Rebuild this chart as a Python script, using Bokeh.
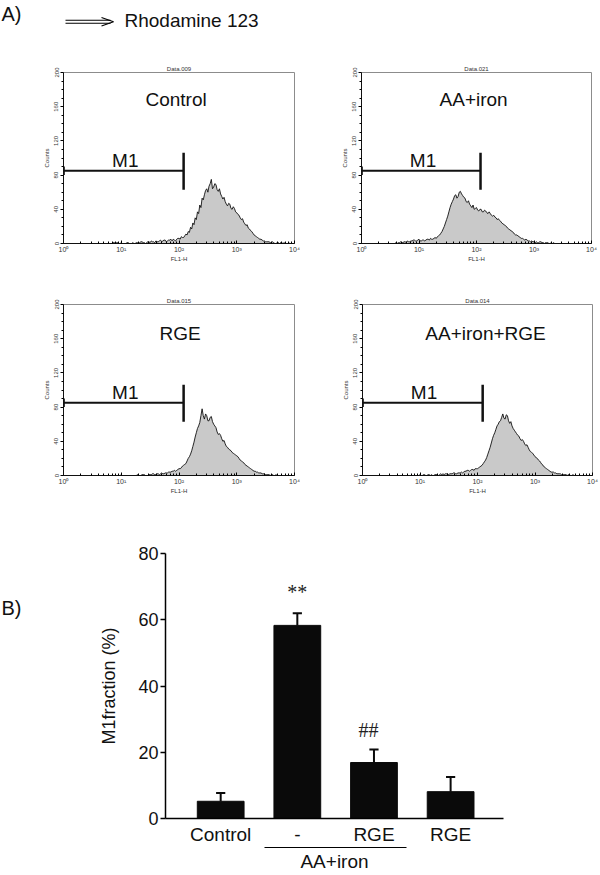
import numpy as np
from bokeh.plotting import figure
from bokeh.layouts import column, row
from bokeh.models import Range1d, FixedTicker, LinearAxis
from bokeh.core.properties import value
from bokeh.embed import file_html
from bokeh.resources import INLINE

# ---------------- data ----------------
# Histogram channels: one value every LOG_STEP decades of FL1-H, starting at 10^0
LOG_STEP = 0.02
control_counts = [0] * 40 + [
    0, 0, 0, 1, 1, 0, 1, 1, 0, 0, 1, 0, 0, 0, 0, 1, 1, 0, 0, 0,
    1, 0, 0, 1, 1, 0, 1, 2, 2, 1, 1, 0, 1, 2, 2, 1, 3, 2, 2, 1,
    3, 2, 2, 3, 4, 2, 3, 4, 4, 2, 3, 4, 4, 5, 3, 5, 4, 3, 5, 6,
    6, 5, 8, 7, 7, 9, 11, 10, 14, 13, 19, 17, 24, 22, 30, 28, 37, 35, 45, 42,
    53, 51, 57, 62, 64, 60, 67, 70, 75, 64, 66, 70, 69, 63, 61, 64, 58, 55, 52, 54,
    49, 46, 44, 47, 46, 41, 40, 43, 41, 37, 36, 34, 33, 30, 28, 29, 25, 23, 21, 22,
    18, 17, 15, 14, 12, 10, 9, 8, 7, 6, 5, 5, 4, 3, 3, 2, 2, 2, 2, 1,
    1, 2, 1, 0, 0, 1, 1, 0, 1, 1, 0, 1, 0, 0, 0, 1, 0, 0, 0, 0, 0]
aa_iron_counts = [0] * 30 + [
    1, 0, 1, 1, 2, 1, 1, 2, 2, 1,
    3, 2, 2, 3, 3, 4, 4, 3, 3, 4,
    5, 3, 3, 4, 4, 3, 4, 5, 5, 4,
    6, 5, 5, 6, 7, 6, 8, 9, 10, 12,
    14, 17, 20, 24, 28, 32, 37, 42, 46, 49,
    52, 56, 57, 53, 55, 60, 61, 58, 56, 54,
    53, 49, 48, 50, 46, 44, 42, 45, 40, 41,
    42, 39, 38, 40, 40, 37, 37, 39, 38, 36,
    35, 37, 35, 33, 32, 33, 31, 30, 28, 29,
    27, 26, 24, 23, 22, 21, 20, 18, 17, 16,
    15, 14, 13, 11, 10, 10, 9, 8, 7, 6,
    6, 5, 4, 5, 4, 3, 3, 2, 3, 2,
    2, 1, 2, 1, 1, 2, 2, 1, 1, 0,
    1, 1, 1, 0, 0, 1, 0, 1, 0, 0] + [0] * 31
rge_counts = [0] * 50 + [
    1, 0, 0, 0, 0, 0, 0, 0, 0, 0,
    0, 0, 0, 0, 1, 0, 0, 0, 1, 1,
    1, 0, 0, 0, 1, 1, 1, 2, 2, 1,
    1, 2, 2, 1, 2, 3, 2, 2, 3, 3,
    3, 4, 4, 4, 5, 5, 6, 5, 6, 7,
    8, 8, 9, 11, 12, 13, 14, 17, 20, 22,
    25, 29, 34, 39, 45, 50, 55, 58, 62, 70,
    78, 70, 66, 72, 70, 64, 64, 68, 69, 63,
    60, 58, 56, 51, 48, 49, 47, 43, 40, 41,
    37, 34, 33, 31, 30, 29, 27, 26, 25, 24,
    23, 22, 20, 18, 17, 16, 15, 13, 12, 11,
    10, 9, 8, 7, 6, 5, 5, 4, 4, 3,
    3, 3, 2, 2, 2, 1, 1, 1, 1, 0,
    1, 1, 0, 0, 1, 0, 0, 0, 0, 0] + [0] * 11
aa_iron_rge_counts = [0] * 50 + [
    1, 0, 0, 1, 1, 0, 0, 1, 1, 0,
    1, 0, 0, 1, 1, 1, 0, 1, 2, 1,
    2, 1, 2, 2, 2, 1, 2, 2, 2, 3,
    3, 2, 2, 3, 3, 3, 4, 3, 4, 5,
    5, 6, 6, 5, 6, 7, 7, 6, 8, 8,
    8, 9, 10, 11, 12, 14, 16, 18, 21, 25,
    29, 33, 38, 43, 47, 50, 54, 58, 60, 63,
    64, 68, 72, 67, 66, 71, 70, 64, 61, 63,
    58, 55, 53, 51, 49, 47, 46, 43, 41, 42,
    40, 37, 35, 36, 33, 30, 28, 27, 26, 24,
    22, 21, 20, 18, 17, 15, 13, 12, 10, 9,
    8, 7, 6, 5, 4, 4, 4, 3, 3, 2,
    2, 2, 2, 1, 1, 1, 1, 1, 0, 1,
    1, 0, 0, 1, 0, 0, 0, 0, 0, 0] + [0] * 11

panel_names = ["Control", "AA+iron", "RGE", "AA+iron+RGE"]
panel_files = ["Data.009", "Data.021", "Data.015", "Data.014"]
name_pos = [(1.95, 169), (1.95, 169), (2.02, 166), (2.14, 166)]
gate_ends = [2.08, 2.07, 2.08, 2.09]        # log10 of M1 upper marker
gate_level = 85
gate_tick = (63, 106)
m1_label_pos = (1.07, 97)
decade_ticks = [0, 1, 2, 3, 4]
decade_labels = ["10\u2070", "10\u00b9", "10\u00b2", "10\u00b3", "10\u2074"]
count_ticks = [0, 40, 80, 120, 160, 200]

bar_labels = ["Control", "-", "RGE", "RGE"]
bar_pos = [1, 2, 3, 4]
m1_fraction = [5.2, 58.3, 16.9, 8.1]
m1_sem = [2.5, 3.7, 3.9, 4.4]
group_label = "AA+iron"
group_span = (1.57, 3.42)
sig_text = ["**", "##"]
sig_x = [2.0, 2.93]
sig_y = [68.3, 26.6]
fraction_ticks = [0, 20, 40, 60, 80]

SANS = "Liberation Sans"
SERIF = "Liberation Serif"
TXT = "#111111"


def blank_fig(width, height):
    """A figure whose frame fills its whole area, in pixel-like units (y up)."""
    f = figure(width=width, height=height, x_range=Range1d(0, width), y_range=Range1d(0, height),
               output_backend="svg", toolbar_location=None, min_border=0,
               min_border_left=0, min_border_right=0, min_border_top=0, min_border_bottom=0)
    f.xaxis.visible = False
    f.yaxis.visible = False
    f.grid.visible = False
    f.outline_line_color = None
    return f


# ---------------- header ----------------
hdr = blank_fig(600, 60)
hdr.text(x=[1], y=[46.5], text=["A)"], text_font=value(SANS), text_font_size="20px",
         text_baseline="middle", text_align="left", text_color=TXT)
hdr.text(x=[124], y=[40], text=["Rhodamine 123"], text_font=value(SANS), text_font_size="19px",
         text_baseline="middle", text_align="left", text_color=TXT)
hdr.segment(x0=[65, 65], y0=[40.3, 37.2], x1=[110, 110], y1=[40.3, 37.2],
            line_color="black", line_width=1.1)
hdr.segment(x0=[101, 101], y0=[43.0, 34.5], x1=[113, 113], y1=[38.75, 38.75],
            line_color="black", line_width=1.1)


# ---------------- histogram panels ----------------
def hist_panel(idx, width, bl, br, bt, bb, height=230):
    counts = hist_counts[idx]
    x = np.arange(len(counts)) * LOG_STEP
    p = figure(width=width, height=height, x_range=Range1d(0, 4), y_range=Range1d(0, 200),
               output_backend="svg", toolbar_location=None,
               min_border_left=bl, min_border_right=br, min_border_top=bt, min_border_bottom=bb,
               title=panel_files[idx])
    p.grid.visible = False
    p.outline_line_color = "#8c8c8c"
    p.outline_line_width = 1
    p.title.align = "center"
    p.title.text_font = SANS
    p.title.text_font_size = "6px"
    p.title.text_font_style = "normal"
    p.title.text_color = "#333333"
    p.title.standoff = 1

    p.varea(x=x, y1=np.zeros(len(counts)), y2=counts, fill_color="#c9c9c9")
    p.line(x=x, y=counts, line_color="#111111", line_width=0.9)

    ge = gate_ends[idx]
    p.segment(x0=[0], y0=[gate_level], x1=[ge], y1=[gate_level], line_color="#111111", line_width=2)
    p.segment(x0=[ge], y0=[gate_tick[0]], x1=[ge], y1=[gate_tick[1]], line_color="#111111", line_width=2.5)
    p.segment(x0=[0.01], y0=[gate_level - 5], x1=[0.01], y1=[gate_level + 5], line_color="#111111", line_width=1.5)
    p.text(x=[m1_label_pos[0]], y=[m1_label_pos[1]], text=["M1"], text_font=value(SANS),
           text_font_size="19px", text_align="center", text_baseline="middle", text_color=TXT)
    nx, ny = name_pos[idx]
    p.text(x=[nx], y=[ny], text=[panel_names[idx]], text_font=value(SANS),
           text_font_size="19px", text_align="center", text_baseline="middle", text_color=TXT)

    minor_x = [d + float(np.log10(k)) for d in range(4) for k in range(2, 10)]
    p.xaxis.ticker = FixedTicker(ticks=decade_ticks, minor_ticks=minor_x)
    p.xaxis.major_label_overrides = dict(zip(decade_ticks, decade_labels))
    p.xaxis.major_label_text_font = SANS
    p.xaxis.major_label_text_font_size = "7px"
    p.xaxis.major_label_text_color = "#333333"
    p.xaxis.major_label_standoff = 2
    p.xaxis.major_tick_in = 3
    p.xaxis.major_tick_out = 0
    p.xaxis.minor_tick_in = 2
    p.xaxis.minor_tick_out = 0
    p.xaxis.axis_label = "FL1-H"
    p.xaxis.axis_label_text_font = SANS
    p.xaxis.axis_label_text_font_size = "6px"
    p.xaxis.axis_label_text_font_style = "normal"
    p.xaxis.axis_label_text_color = "#333333"
    p.xaxis.axis_label_standoff = 0
    p.xaxis.axis_line_color = "#111111"

    minor_y = [v for v in range(0, 201, 10) if v % 40]
    p.yaxis.ticker = FixedTicker(ticks=count_ticks, minor_ticks=minor_y)
    p.yaxis.major_label_orientation = "vertical"
    p.yaxis.major_label_text_font = SANS
    p.yaxis.major_label_text_font_size = "6px"
    p.yaxis.major_label_text_color = "#333333"
    p.yaxis.major_label_standoff = 2
    p.yaxis.major_tick_in = 0
    p.yaxis.major_tick_out = 3
    p.yaxis.minor_tick_in = 0
    p.yaxis.minor_tick_out = 2
    p.yaxis.axis_label = "Counts"
    p.yaxis.axis_label_text_font = SANS
    p.yaxis.axis_label_text_font_size = "6px"
    p.yaxis.axis_label_text_font_style = "normal"
    p.yaxis.axis_label_text_color = "#333333"
    p.yaxis.axis_label_standoff = 2
    p.yaxis.axis_line_color = "#111111"
    return p


hist_counts = [control_counts, aa_iron_counts, rge_counts, aa_iron_rge_counts]
h1 = hist_panel(0, 300, 63, 6, 12, 47)
h2 = hist_panel(1, 300, 61, 9, 12, 47)
h3 = hist_panel(2, 300, 63, 6, 14, 45)
h4 = hist_panel(3, 300, 62, 8, 14, 45)

# ---------------- bar chart ----------------
blab = blank_fig(40, 355)
blab.text(x=[1], y=[355 - 73], text=["B)"], text_font=value(SANS), text_font_size="20px",
          text_baseline="middle", text_align="left", text_color=TXT)

bp = figure(width=560, height=355, x_range=Range1d(0.28, 4.69), y_range=Range1d(0, 80),
            output_backend="svg", toolbar_location=None,
            min_border_left=125, min_border_right=97, min_border_top=33, min_border_bottom=57)
bp.grid.visible = False
bp.outline_line_color = None
bp.vbar(x=bar_pos, top=m1_fraction, width=0.61, fill_color="#0a0a0a", line_color="#0a0a0a")
tops = [m + s for m, s in zip(m1_fraction, m1_sem)]
bp.segment(x0=bar_pos, y0=m1_fraction, x1=bar_pos, y1=tops, line_color="#0a0a0a", line_width=2)
bp.segment(x0=[b - 0.06 for b in bar_pos], y0=tops, x1=[b + 0.06 for b in bar_pos], y1=tops,
           line_color="#0a0a0a", line_width=2)
bp.text(x=sig_x, y=sig_y, text=sig_text, text_font=value(SERIF), text_font_size="20px",
        text_align="center", text_baseline="middle", text_color="#222222")

bp.yaxis.ticker = FixedTicker(ticks=fraction_ticks)
bp.yaxis.major_label_text_font = SANS
bp.yaxis.major_label_text_font_size = "18px"
bp.yaxis.major_label_text_color = TXT
bp.yaxis.major_tick_in = 0
bp.yaxis.major_tick_out = 5
bp.yaxis.minor_tick_out = 0
bp.yaxis.major_label_standoff = 2
bp.yaxis.axis_line_width = 1.5
bp.yaxis.major_tick_line_width = 1.5
bp.yaxis.axis_label = "M1fraction (%)"
bp.yaxis.axis_label_text_font = SANS
bp.yaxis.axis_label_text_font_size = "18px"
bp.yaxis.axis_label_text_font_style = "normal"
bp.yaxis.axis_label_text_color = TXT
bp.yaxis.axis_label_standoff = 16

bp.xaxis.ticker = FixedTicker(ticks=bar_pos)
bp.xaxis.major_label_overrides = dict(zip(bar_pos, bar_labels))
bp.xaxis.major_label_text_font = SANS
bp.xaxis.major_label_text_font_size = "19px"
bp.xaxis.major_label_text_color = TXT
bp.xaxis.major_tick_in = 0
bp.xaxis.major_tick_out = 0
bp.xaxis.minor_tick_out = 0
bp.xaxis.major_label_standoff = 5
bp.xaxis.axis_line_width = 1.5

gax = LinearAxis(ticker=FixedTicker(ticks=[]), bounds=group_span, axis_label=group_label,
                 major_tick_in=0, major_tick_out=0, minor_tick_in=0, minor_tick_out=0,
                 axis_line_width=1.2, axis_label_standoff=3,
                 axis_label_text_font=SANS, axis_label_text_font_size="19px",
                 axis_label_text_font_style="normal", axis_label_text_color=TXT)
bp.add_layout(gax, "below")

layout = column(hdr, row(h1, h2), row(h3, h4), row(blab, bp))
open("out.html", "w").write(file_html(layout, INLINE))
